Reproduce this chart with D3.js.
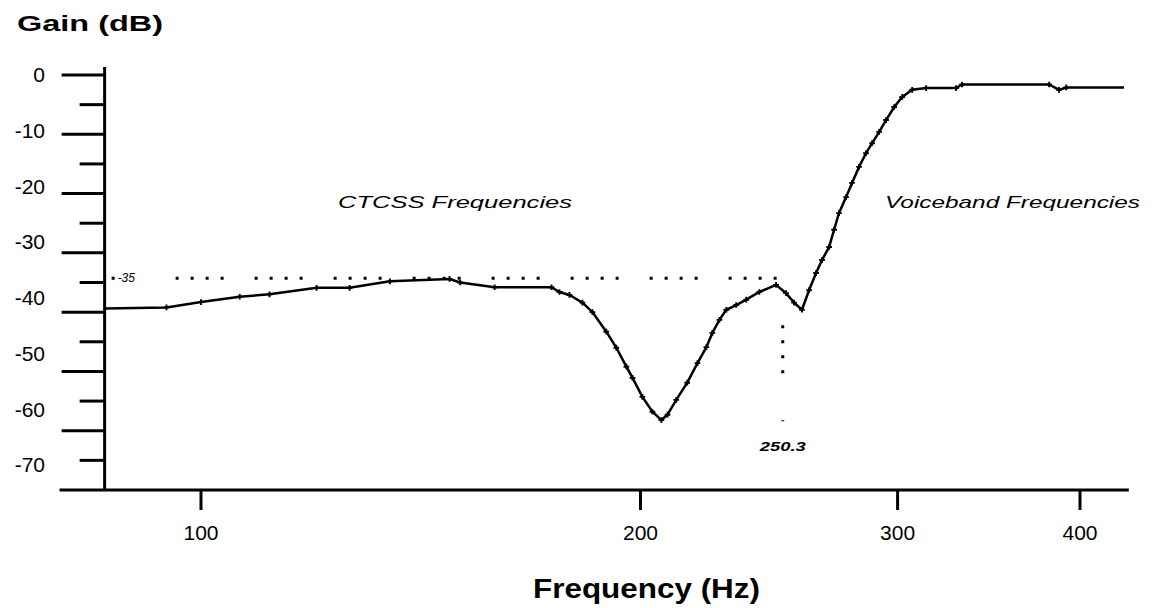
<!DOCTYPE html>
<html><head><meta charset="utf-8">
<script src="https://cdn.jsdelivr.net/npm/d3@7"></script>
<style>body{margin:0;background:#fff}svg{display:block}text{font-family:Arial,"Liberation Sans",sans-serif;fill:#000}</style>
</head><body>
<script>
// ---- data ----
const freqHz = [85.9, 94.7, 100, 106.3, 111.4, 120, 126.4, 134.7, 148, 150.5, 158.9, 173.8, 176, 178.8, 182.5, 185.4, 189.5, 192.5, 195.6, 197.5, 200.6, 203.8, 206.7, 208.7, 211.6, 215.3, 218.8, 221.9, 224.0, 226.5, 229.0, 232.6, 236.3, 241.2, 247.7, 251.6, 254.8, 258.0, 260.9, 263.8, 266.3, 269.3, 271.4, 273.5, 276.6, 279.2, 282.3, 285.4, 288.2, 291.4, 294.6, 298.4, 302.2, 307.0, 313.8, 329.0, 332.1, 381.0, 387.0, 391.4, 428.8];
const gainDb = [-39.4, -39.2, -38.3, -37.4, -37.0, -35.9, -35.9, -34.8, -34.4, -35.0, -35.8, -35.8, -36.6, -37.1, -38.4, -40.0, -43.3, -46.0, -49.2, -51.1, -54.3, -56.8, -58.2, -57.3, -54.8, -51.9, -48.6, -45.9, -43.5, -41.3, -39.6, -38.8, -37.9, -36.6, -35.4, -36.8, -38.4, -39.6, -36.3, -33.4, -31.2, -29.0, -26.1, -23.3, -20.6, -18.2, -15.5, -13.2, -11.5, -9.6, -7.6, -5.4, -3.7, -2.5, -2.2, -2.2, -1.6, -1.6, -2.5, -2.1, -2.1];
const xTickValues = [100, 200, 300, 400];
const xTickLabels = ["100", "200", "300", "400"];
const yMajorTicks = [0, -10, -20, -30, -40, -50, -60, -70];
const yMinorTicks = [-5, -15, -25, -35, -45, -55, -65];
const yTickLabels = ["0", "-10", "-20", "-30", "-40", "-50", "-60", "-70"];
const thresholdDb = -34.3;         // dotted reference level
const thresholdLabel = "-35";
const markerHz = 250.3;             // vertical dotted marker
const markerLabel = "250.3";
const regionLabels = [{text: "CTCSS Frequencies", f: 145}, {text: "Voiceband Frequencies", f: 365}];
const xDomainMin = 80, xDomainMax = 432, yAxisHz = 85.9;

// ---- drawing ----
const W = 1159, H = 608;
const svg = d3.select("body").append("svg").attr("width", W).attr("height", H);

// log x scale fitted to the reference tick positions
const x = d3.scaleLog().domain([100, 400]).range([201, 1080]);
const y = d3.scaleLinear().domain([0, -70]).range([75, 490]);
const yLab = d3.scaleLinear().domain([0, -70]).range([75, 465]);

const x0 = x(yAxisHz);
const xAxisY = y(-70);

// axes lines
svg.append("line").attr("x1", x(xDomainMin)).attr("x2", x(xDomainMax))
  .attr("y1", xAxisY).attr("y2", xAxisY).attr("stroke", "#000").attr("stroke-width", 3);
svg.append("line").attr("x1", x0).attr("x2", x0)
  .attr("y1", 67).attr("y2", xAxisY).attr("stroke", "#000").attr("stroke-width", 3);

// y ticks
svg.selectAll(".ymaj").data(yMajorTicks.slice(0, 7)).enter().append("line")
  .attr("x1", x0 - 43).attr("x2", x0).attr("y1", d => y(d)).attr("y2", d => y(d))
  .attr("stroke", "#000").attr("stroke-width", 3);
svg.selectAll(".ymin").data(yMinorTicks).enter().append("line")
  .attr("x1", x0 - 25).attr("x2", x0).attr("y1", d => y(d)).attr("y2", d => y(d))
  .attr("stroke", "#000").attr("stroke-width", 3);
svg.selectAll(".ylab").data(yMajorTicks).enter().append("text")
  .attr("x", 45).attr("y", d => yLab(d)).attr("dy", "0.35em")
  .attr("text-anchor", "end").style("font-size", "21px")
  .text((d, i) => yTickLabels[i]);

// x ticks
svg.selectAll(".xt").data(xTickValues).enter().append("line")
  .attr("x1", d => x(d)).attr("x2", d => x(d)).attr("y1", xAxisY).attr("y2", xAxisY + 20)
  .attr("stroke", "#000").attr("stroke-width", 3);
svg.selectAll(".xl").data(xTickValues).enter().append("text")
  .attr("x", d => x(d)).attr("y", 540).attr("text-anchor", "middle")
  .style("font-size", "21px").text((d, i) => xTickLabels[i]);

// threshold dotted line
svg.append("line").attr("x1", x0 + 7).attr("x2", x(markerHz) + 1)
  .attr("y1", y(thresholdDb)).attr("y2", y(thresholdDb))
  .attr("stroke", "#000").attr("stroke-width", 3)
  .attr("stroke-dasharray", "3,12,3,12,3,12,3,31").attr("stroke-dashoffset", 15);
svg.append("rect").attr("x", x0 + 12).attr("y", y(thresholdDb) - 7).attr("width", 30).attr("height", 12).attr("fill", "#fff");
svg.append("text").attr("x", x0 + 13).attr("y", y(thresholdDb) + 4)
  .style("font-size", "12px").style("font-style", "italic").text(thresholdLabel);

// vertical marker dotted line
svg.append("line").attr("x1", x(markerHz)).attr("x2", x(markerHz))
  .attr("y1", y(-42.2)).attr("y2", y(-58.4))
  .attr("stroke", "#000").attr("stroke-width", 3)
  .attr("stroke-dasharray", "3,12,3,12,3,12,3,47");
svg.append("text").attr("x", x(markerHz)).attr("y", 451).attr("text-anchor", "middle")
  .style("font-size", "13px").style("font-weight", "bold").style("font-style", "italic")
  .attr("textLength", 46).attr("lengthAdjust", "spacingAndGlyphs").text(markerLabel);

// curve
const line = d3.line().x(d => x(d[0])).y(d => y(d[1]));
const pts = freqHz.map((f, i) => [f, gainDb[i]]);
svg.append("path").datum(pts).attr("d", line).attr("fill", "none")
  .attr("stroke", "#000").attr("stroke-width", 2.5);
svg.selectAll(".mk").data(pts.slice(1, -1)).enter().append("path")
  .attr("d", d3.symbol().type(d3.symbolCross).size(18))
  .attr("transform", d => `translate(${x(d[0])},${y(d[1])})`).attr("fill", "#000");

// region labels
svg.selectAll(".rl").data(regionLabels).enter().append("text")
  .attr("x", (d, i) => i === 0 ? 338 : 885).attr("y", 208)
  .style("font-size", "17px").style("font-style", "italic")
  .attr("textLength", (d, i) => i === 0 ? 234 : 255).attr("lengthAdjust", "spacingAndGlyphs")
  .text(d => d.text);

// axis titles
svg.append("text").attr("x", 17).attr("y", 31).style("font-size", "22px").style("font-weight", "bold")
  .attr("textLength", 146).attr("lengthAdjust", "spacingAndGlyphs").text("Gain (dB)");
svg.append("text").attr("x", 533).attr("y", 598).style("font-size", "28px").style("font-weight", "bold")
  .attr("textLength", 227).attr("lengthAdjust", "spacingAndGlyphs").text("Frequency (Hz)");
</script>
</body></html>
